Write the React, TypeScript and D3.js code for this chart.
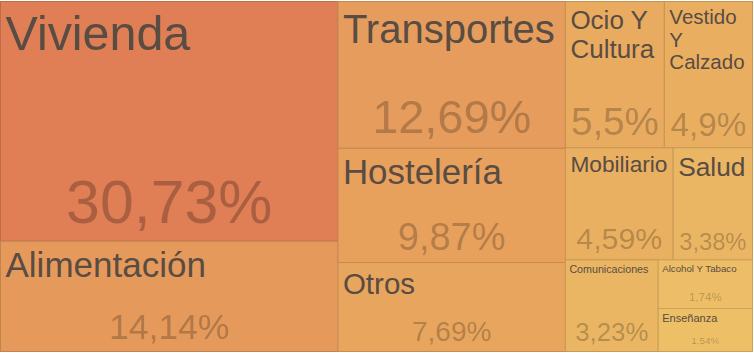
import React, { useMemo } from "react";
import * as d3 from "d3";

// ---- data ----
const categories = [
  "Vivienda",
  "Alimentación",
  "Transportes",
  "Hostelería",
  "Otros",
  "Ocio Y Cultura",
  "Vestido Y Calzado",
  "Mobiliario",
  "Salud",
  "Comunicaciones",
  "Alcohol Y Tabaco",
  "Enseñanza",
];
const shares = [30.73, 14.14, 12.69, 9.87, 7.69, 5.5, 4.9, 4.59, 3.38, 3.23, 1.74, 1.54];

// ---- styles (font sizes per tile, kept apart from data) ----
const labelFontSize: Record<string, number> = {
  "Vivienda": 48.4,
  "Alimentación": 35,
  "Transportes": 40,
  "Hostelería": 34.9,
  "Otros": 29.5,
  "Ocio Y Cultura": 26,
  "Vestido Y Calzado": 20.5,
  "Mobiliario": 22.7,
  "Salud": 26.3,
  "Comunicaciones": 10.7,
  "Alcohol Y Tabaco": 9.7,
  "Enseñanza": 11,
};
const valueFontSize: Record<string, number> = {
  "Vivienda": 60.8,
  "Alimentación": 35.5,
  "Transportes": 46.8,
  "Hostelería": 38,
  "Otros": 28,
  "Ocio Y Cultura": 38.5,
  "Vestido Y Calzado": 33.2,
  "Mobiliario": 30.3,
  "Salud": 23.7,
  "Comunicaciones": 25.8,
  "Alcohol Y Tabaco": 11.6,
  "Enseñanza": 9.9,
};

const W = 754;
const H = 353;
const FONT = "'Liberation Sans', Arial, Helvetica, sans-serif";

const color = d3
  .scaleLinear<string>()
  .domain([1.54, 3.3, 5.5, 9.87, 14.14, 30.73])
  .range(["#EDBF67", "#EBB663", "#E9AB60", "#E8A05D", "#E59A5C", "#E07E56"])
  .interpolate(d3.interpolateRgb);

let ctx: CanvasRenderingContext2D | null = null;
function measure(text: string, size: number): number {
  if (!ctx) ctx = document.createElement("canvas").getContext("2d");
  if (!ctx) return text.length * size * 0.55;
  ctx.font = `${size}px ${FONT}`;
  return ctx.measureText(text).width;
}

function wrap(text: string, size: number, maxW: number): string[] {
  const words = text.split(" ");
  const lines: string[] = [];
  let cur = "";
  for (const w of words) {
    const t = cur ? cur + " " + w : w;
    if (cur && measure(t, size) > maxW) {
      lines.push(cur);
      cur = w;
    } else cur = t;
  }
  if (cur) lines.push(cur);
  return lines;
}

const fmt = (v: number) => String(v).replace(".", ",") + "%";

export default function App() {
  const leaves = useMemo(() => {
    const root = d3
      .hierarchy({ children: categories.map((name, i) => ({ name, value: shares[i] })) } as any)
      .sum((d: any) => d.value || 0)
      .sort((a, b) => (b.value || 0) - (a.value || 0));
    d3.treemap().tile(d3.treemapSquarify).size([752, 350]).round(false)(root);
    return root.leaves() as any[];
  }, []);

  return (
    <svg
      width={W}
      height={H}
      style={{ position: "absolute", left: 0, top: 0, background: "#fff" }}
      fontFamily={FONT}
    >
      <g transform="translate(0.5,1.5)">
        {leaves.map((d) => {
          const name = d.data.name as string;
          const v = d.data.value as number;
          const fill = color(v);
          const stroke = d3.color(fill)!.darker(0.45).formatHex();
          const w = d.x1 - d.x0;
          const lf = labelFontSize[name];
          const vf = valueFontSize[name];
          const lines = wrap(name, lf, w - 10);
          const pad = lf < 14 ? 4 : 5;
          return (
            <g key={name}>
              <rect
                x={d.x0}
                y={d.y0}
                width={w}
                height={d.y1 - d.y0}
                fill={fill}
                stroke={stroke}
                strokeWidth={1}
              />
              <text fill="#594c43" fontSize={lf}>
                {lines.map((ln, i) => (
                  <tspan key={i} x={d.x0 + pad} y={d.y0 + 3 + 0.95 * lf + i * 1.1 * lf}>
                    {ln}
                  </tspan>
                ))}
              </text>
              <text
                x={(d.x0 + d.x1) / 2}
                y={d.y1 - 5 - 0.21 * vf}
                fontSize={vf}
                textAnchor="middle"
                fill="#000"
                fillOpacity={0.24}
              >
                {fmt(v)}
              </text>
            </g>
          );
        })}
      </g>
    </svg>
  );
}
